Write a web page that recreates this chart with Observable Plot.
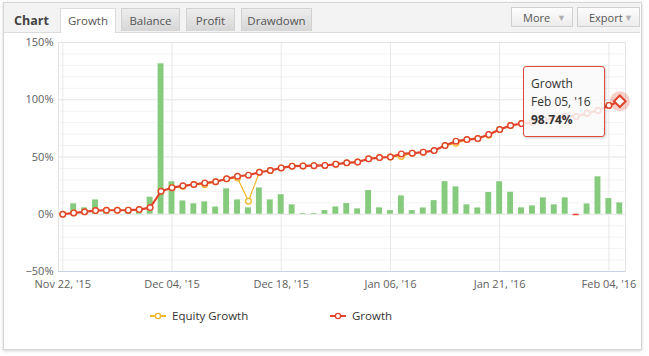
<!DOCTYPE html>
<html>
<head>
<meta charset="utf-8">
<script src="https://cdn.jsdelivr.net/npm/d3@7"></script>
<script src="https://cdn.jsdelivr.net/npm/@observablehq/plot@0.6"></script>
<style>
  html, body { margin: 0; padding: 0; background: #fff; width: 649px; height: 356px; overflow: hidden; font-family: "Open Sans", sans-serif; }
  .panel { position: absolute; left: 3px; top: 2px; width: 637px; height: 346px; border: 1px solid #d6d6d6; box-shadow: 0 1px 3px rgba(0,0,0,0.18); background: #fff; }
  .header { position: absolute; left: 4px; top: 3px; width: 636px; height: 29px; background: #f3f3f3; border-bottom: 1px solid #dcdcdc; }
  .title { position: absolute; left: 10px; top: 9px; font-weight: bold; font-size: 12.5px; color: #444; }
  .tab { position: absolute; top: 8px; height: 23px; line-height: 23px; text-align: center; font-size: 11.5px; color: #555; border: 1px solid #d2d2d2; border-bottom: none; background: linear-gradient(#ededed, #d6d6d6); box-sizing: border-box; }
  .tab.active { background: #fff; height: 25px; border-color: #dcdcdc; }
  .btn { position: absolute; top: 7px; height: 20px; line-height: 19px; font-size: 11px; color: #555; border: 1px solid #d0d0d0; background: linear-gradient(#fdfdfd, #ececec); box-sizing: border-box; }
  .btn .t { position: absolute; left: 11px; top: 0; }
  .btn .a { position: absolute; right: 6px; top: 0; color: #b0b0b0; font-size: 9px; }
  #chart { position: absolute; left: 0; top: 0; }
  .tip { position: absolute; left: 523px; top: 66px; width: 82px; height: 71px; box-sizing: border-box; border: 1px solid #dd4b39; border-radius: 3px; background: rgba(249,249,249,0.85); box-shadow: 1px 1px 3px rgba(0,0,0,0.2); padding: 8px 0 0 7px; font-size: 12px; line-height: 18px; color: #333; }
  .legend { position: absolute; top: 308px; font-size: 11.5px; color: #333; height: 16px; line-height: 16px; }
  .legend svg { position: absolute; left: 0; top: 0; }
  .legend .lbl { position: absolute; white-space: nowrap; }
</style>
</head>
<body>
<div class="panel"></div>
<div class="header">
  <div class="title">Chart</div>
</div>
<div id="tabs"></div>
<div id="chart"></div>
<div class="tip" id="tip"></div>
<div id="legend"></div>
<script>
// ---- data ----
const tabNames = ["Growth", "Balance", "Profit", "Drawdown"];
const buttonNames = ["More", "Export"];
const tickIndex = [0, 10, 20, 30, 40, 50];
const tickLabels = ["Nov 22, '15", "Dec 04, '15", "Dec 18, '15", "Jan 06, '16", "Jan 21, '16", "Feb 04, '16"];
const yTicks = [-50, 0, 50, 100, 150];
const lastLabel = "Feb 05, '16";
const seriesNames = ["Equity Growth", "Growth"];

const growth = [0, 1.2, 2.1, 3.2, 3.5, 3.5, 3.6, 4.1, 5.8, 20.1,
  23.2, 24.8, 26.0, 27.4, 28.4, 30.9, 33.2, 34.1, 36.7, 38.2,
  40.5, 42.0, 42.2, 42.4, 42.6, 43.7, 44.9, 45.6, 48.4, 49.5,
  50.0, 52.7, 53.3, 54.2, 55.6, 60.0, 63.8, 65.2, 66.1, 69.6,
  74.0, 77.5, 79.2, 80.1, 82.5, 83.4, 85.6, 85.3, 88.2, 90.6,
  95.0, 98.74];
const equity = [0, 1.2, 2.1, 3.2, 3.5, 3.5, 3.6, 4.1, 5.8, 20.1,
  23.2, 24.2, 26.0, 25.8, 28.4, 30.9, 31.6, 11.4, 36.7, 38.2,
  40.5, 42.0, 42.2, 42.4, 42.6, 43.7, 44.9, 45.6, 48.4, 49.5,
  50.0, 50.5, 53.3, 54.2, 55.6, 60.0, 61.9, 65.2, 66.1, 68.9,
  74.0, 77.5, 79.2, 80.1, 82.5, 83.4, 85.6, 85.3, 88.2, 90.6,
  95.0, 98.74];
const daily = [0, 9.1, 5.6, 12.5, 2.5, 0, 3.0, 3.0, 14.9, 131.4,
  28.4, 11.6, 9.1, 10.8, 6.3, 22.2, 12.5, 5.6, 23.0, 12.5,
  17.1, 8.2, 0.6, 0.6, 3.2, 6.4, 9.3, 4.7, 20.7, 5.6,
  3.2, 16.0, 3.2, 5.5, 11.9, 28.5, 23.9, 8.2, 5.5, 19.0,
  28.4, 19.2, 5.6, 7.3, 14.3, 8.2, 14.3, -1.3, 9.0, 32.7,
  13.7, 9.9];

// ---- styles ----
const RED = "#e0442b", ORANGE = "#f6b62a", GREEN = "#86cb7d";

// header tabs & buttons
const tabPos = [[60, 56], [121, 59], [186, 49], [241, 71]];
const tabsEl = document.getElementById("tabs");
tabNames.forEach((t, k) => {
  const d = document.createElement("div");
  d.className = "tab" + (k === 0 ? " active" : "");
  d.style.left = tabPos[k][0] + "px";
  d.style.width = tabPos[k][1] + "px";
  d.textContent = t;
  tabsEl.appendChild(d);
});
const btnPos = [[511, 62], [577, 63]];
buttonNames.forEach((t, k) => {
  const d = document.createElement("div");
  d.className = "btn";
  d.style.left = btnPos[k][0] + "px"; d.style.width = btnPos[k][1] + "px";
  d.innerHTML = `<span class="t">${t}</span><span class="a">&#9660;</span>`;
  tabsEl.appendChild(d);
});

const rows = growth.map((g, i) => ({i, growth: g, equity: equity[i], daily: daily[i]}));
const last = rows[rows.length - 1];
const fmtPct = d => (d < 0 ? "\u2212" : "") + Math.abs(d) + "%";

const chart = Plot.plot({
  width: 649,
  height: 300,
  marginTop: 42,
  marginBottom: 29,
  marginLeft: 58,
  marginRight: 24,
  style: {fontFamily: "'Open Sans', sans-serif", fontSize: "11px", color: "#606060", background: "transparent", overflow: "visible"},
  x: {domain: [-0.39, 51.52], ticks: tickIndex, tickFormat: d => tickLabels[tickIndex.indexOf(d)], tickSize: 0, tickPadding: 9, label: null},
  y: {domain: [-50, 150], ticks: yTicks, tickFormat: fmtPct, tickSize: 0, tickPadding: 5, label: null},
  marks: [
    Plot.ruleY(d3.range(-40, 150, 10).filter(v => v % 50 !== 0), {stroke: "#f3f3f3"}),
    Plot.ruleY(yTicks, {stroke: "#e4e4e4"}),
    Plot.ruleX(tickIndex, {stroke: "#e8e8e8"}),
    Plot.frame({stroke: "#e4e4e4"}),
    Plot.ruleY([-50], {stroke: "#c6d3e0"}),
    Plot.rectY(rows.filter(d => d.daily !== 0), {
      x1: d => d.i - 0.27, x2: d => d.i + 0.27, y1: 0, y2: "daily",
      fill: d => d.daily < 0 ? RED : GREEN
    }),
    Plot.line(rows, {x: "i", y: "equity", stroke: ORANGE, strokeWidth: 1.2}),
    Plot.dot(rows, {x: "i", y: "equity", r: 2.8, fill: "white", stroke: ORANGE, strokeWidth: 1.3}),
    Plot.line(rows, {x: "i", y: "growth", stroke: RED, strokeWidth: 2.2}),
    Plot.dot(rows.slice(0, -1), {x: "i", y: "growth", r: 2.8, fill: "white", stroke: RED, strokeWidth: 1.4}),
    Plot.dot([last], {x: "i", y: "growth", r: 10, fill: RED, fillOpacity: 0.25}),
    Plot.dot([last], {x: "i", y: "growth", symbol: "diamond2", r: 5.2, fill: "white", stroke: RED, strokeWidth: 2})
  ]
});
document.getElementById("chart").appendChild(chart);

// tooltip
document.getElementById("tip").innerHTML =
  seriesNames[1] + "<br>" + lastLabel + "<br><b>" + last.growth.toFixed(2) + "%</b>";

// legend
const legendColors = [ORANGE, RED];
const legendX = [150, 330];
const legEl = document.getElementById("legend");
seriesNames.forEach((name, k) => {
  const color = legendColors[k];
  const d = document.createElement("div");
  d.className = "legend";
  d.style.left = legendX[k] + "px";
  d.style.width = "120px";
  d.innerHTML = `<svg width="18" height="16"><line x1="0" x2="16" y1="8" y2="8" stroke="${color}" stroke-width="2"/><circle cx="8" cy="8" r="2.6" fill="white" stroke="${color}" stroke-width="1.3"/></svg><span class="lbl" style="left:22px">${name}</span>`;
  legEl.appendChild(d);
});
</script>
</body>
</html>
